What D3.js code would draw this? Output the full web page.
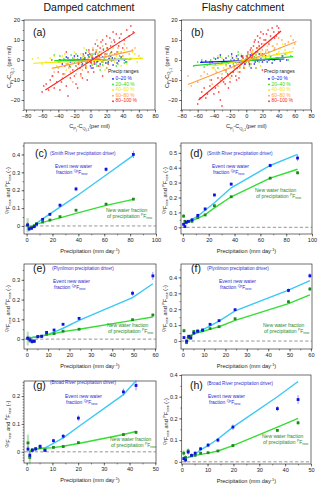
<!DOCTYPE html>
<html><head><meta charset="utf-8">
<script src="https://cdn.jsdelivr.net/npm/d3@7"></script>
<style>body{margin:0;background:#fff}svg{display:block;font-family:"Liberation Sans",Arial,sans-serif}</style>
</head><body><svg id="c" width="320" height="489"></svg>
<script>
// ---------------- DATA ----------------
const rangeNames = ["0\u201320 %","20\u201340 %","40\u201360 %","60\u201380 %","80\u2013100 %"];
const rangeColors = ["#1414f0","#22dd22","#f2e600","#ffa040","#ff2020"];
const scatterTicksX = [-80,-60,-40,-20,0,20,40,60,80];
const scatterTicksY = [-20,-10,0,10,20];

// (a) damped catchment scatter: [x, y]
const aBlue = [[-38,0],[-30,1.5],[-25,-1],[-20,2],[-15,-0.5],[-12,1],[-10,-2],[-8,0.5],[-5,-1.5],[-3,2.5],[-1,0],[0,-3],[2,1],[4,-0.5],[6,3],[8,-1],[10,0.5],[12,-2],[15,1.5],[18,0],[22,-1],[25,2],[30,0.5],[35,-0.5],[42,0],[-6,3.5],[3,-4],[-18,-3],[20,3],[28,-2.5],
  [-35,-2],[-28,1],[-22,-0.5],[-16,2],[-11,-1],[-7,1],[-4,-0.5],[-2,1.5],[1,-1.5],[3,0.5],[5,-2],[7,1.5],[9,-0.5],[11,2],[14,-1],[16,0],[19,-1.5],[23,0.8],[27,1],[33,-1.5],[38,1.5],[44,-1]];
const aGreen = [[-45,2.5],[-40,-1],[-33,0.5],[-28,-2],[-22,1],[-18,3],[-14,-1.5],[-9,2],[-6,-3],[-2,1.5],[1,-1],[3,3],[5,0],[7,-2],[9,2],[11,4],[14,-1],[17,1],[20,-4],[23,2],[26,-0.5],[30,3],[34,-2],[38,1],[45,-1],[50,0.5],[-25,-3.5],[12,-5],[-5,5],[16,5.5],
  [-38,2],[-30,-0.5],[-24,2.5],[-20,-1.5],[-16,0.5],[-11,-2.5],[-7,0.5],[-4,-1],[0,2.5],[2,-2.5],[4,1],[6,3.5],[8,-3],[10,0],[13,2.5],[15,-2.5],[19,1.5],[21,-1.5],[25,3.5],[28,0],[32,-3],[36,2],[42,-1.5]];
const aYellow = [[-72,0.5],[-60,-2],[-50,1],[-42,-3],[-35,2],[-28,-1],[-20,4],[-15,-2],[-10,1],[-5,-4],[0,2],[4,-1],[8,5],[12,0],[16,-3],[20,3],[25,1],[30,-1],[35,4],[40,2],[45,-2],[50,1],[55,3],[62,1],[-8,6],[18,-5],[28,6],[-30,-5],
  [-65,1],[-55,-1],[-45,2],[-38,-1],[-32,3],[-25,0],[-18,-3],[-12,3],[-6,-1],[-2,4],[2,-2],[6,1],[10,3],[14,-1],[22,-2],[26,4],[32,2],[38,-3],[42,5],[48,0],[52,4],[58,-1]];
const aOrange = [[-48,-8],[-40,-4],[-35,-9],[-30,-2],[-25,-6],[-20,1],[-16,-4],[-12,-8],[-8,2],[-5,-3],[-2,4],[0,-1],[3,6],[6,0],[9,3],[12,-3],[15,7],[18,2],[22,5],[26,9],[30,1],[34,6],[38,4],[42,8],[48,3],[55,6],[60,2],[20,-4],[-22,-11],[8,10],
  [-45,-6],[-38,-1],[-32,-7],[-27,-4],[-23,-1],[-18,-7],[-14,0],[-10,-5],[-6,-1],[-3,1],[1,3],[4,-2],[7,5],[10,2],[13,4],[16,-1],[20,6],[24,3],[28,7],[32,3],[36,9],[40,2],[45,6],[52,5]];
const aRed = [[-60,-16],[-55,-12],[-50,-10],[-45,-14],[-40,-6],[-36,-11],[-32,-3],[-28,-18],[-25,-9],[-22,-5],[-18,-12],[-15,-2],[-12,-7],[-9,3],[-6,-4],[-4,-10],[-2,5],[0,-1],[2,2],[4,-6],[6,8],[8,1],[10,-3],[12,6],[15,10],[18,3],[20,12],[22,-2],[25,7],[28,14],[30,9],[33,4],[36,11],[40,6],[45,15],[50,17],[-30,4],[15,-8],[-48,0],
  [-58,-13],[-52,-15],[-47,-8],[-42,-11],[-38,-15],[-34,-7],[-30,-13],[-26,-3],[-20,-8],[-16,-14],[-13,-4],[-10,-9],[-7,0],[-3,-6],[-1,3],[1,-4],[3,5],[5,-1],[7,4],[9,7],[11,0],[13,9],[16,5],[19,8],[21,6],[24,11],[26,4],[29,10],[32,13],[35,7],[38,13],[42,10],[48,12],[53,14]];
// regression lines (a): [x1,y1,x2,y2]
const aLines = [[-40,-0.2,45,0.3],[-45,-0.3,50,0.5],[-71,-1.65,65,0.8],[-48,-4.2,53,4.7],[-56,-15,55,13.8]];

// (b) flashy catchment scatter
const bBlue = [[-55,-1],[-45,-2],[-38,0.5],[-30,-1.5],[-25,1],[-20,-3],[-15,0],[-12,2],[-8,-1],[-5,1.5],[-2,-2],[0,0.5],[3,-1],[5,2.5],[8,0],[10,-2],[13,1],[16,3],[20,-1],[24,2],[28,0],[32,-1.5],[38,1],[45,2],[50,0],[-18,3],[6,-4],[-32,2.5],
  [-50,-0.5],[-42,-1],[-35,1],[-28,0],[-22,-1.5],[-17,1],[-13,-1],[-10,0.5],[-6,2],[-3,-0.5],[1,1.5],[4,-2],[7,1],[11,-1],[14,-0.5],[18,1],[22,0],[26,-1],[30,1.5],[35,0],[42,-0.5]];
const bGreen = [[-65,-3],[-55,0],[-48,-2.5],[-40,1],[-35,-4],[-28,-1],[-22,2],[-16,-2],[-12,1],[-8,-3.5],[-4,2],[0,-1],[2,3],[6,-2],[10,1.5],[14,4],[18,0],[22,3],[26,-1],[30,2],[35,5],[40,1],[48,3],[55,2],[-25,-6],[12,-4],[-10,4],
  [-60,-1],[-52,-3.5],[-44,0],[-38,-2],[-32,1.5],[-25,-2.5],[-19,0],[-14,-3],[-10,2.5],[-6,-1],[-2,0],[1,2],[4,-3],[8,1],[12,2.5],[16,-1],[20,2],[24,1],[28,4],[33,0],[38,3],[44,2],[52,0]];
const bYellow = [[-45,-2],[-38,-5],[-30,1],[-25,-3],[-20,-6],[-15,0],[-10,-2],[-6,3],[-2,-4],[0,1],[4,-1],[8,4],[12,2],[16,6],[20,0],[24,5],[28,3],[32,7],[36,1],[40,4],[45,8],[50,3],[58,6],[-35,2],[18,-3],
  [-42,-4],[-35,-1],[-28,-4],[-22,-1],[-18,-4],[-12,1],[-8,-3],[-4,0],[2,2],[6,-2],[10,3],[14,1],[18,4],[22,2],[26,7],[30,1],[34,5],[38,3],[42,6],[48,5],[54,4]];
const bOrange = [[-72,-8],[-60,-11],[-52,-6],[-45,-10],[-40,-4],[-35,-13],[-30,-7],[-25,-2],[-20,-9],[-15,-4],[-10,-6],[-6,0],[-3,-3],[0,2],[3,-1],[6,4],[10,1],[14,6],[18,3],[22,8],[26,5],[30,10],[35,6],[40,11],[48,8],[55,12],[60,8],[-18,2],[12,-4],
  [-68,-13],[-56,-8],[-48,-7],[-42,-12],[-37,-6],[-32,-10],[-27,-5],[-22,-8],[-17,-6],[-12,-2],[-8,-4],[-4,1],[-1,-1],[2,3],[5,1],[8,5],[12,3],[16,7],[20,5],[24,4],[28,9],[33,7],[38,8],[44,10],[52,9],[58,10]];
const bRed = [[-60,-22],[-55,-16],[-50,-19],[-45,-13],[-40,-17],[-35,-9],[-32,-20],[-28,-11],[-25,-5],[-22,-14],[-18,-8],[-15,-3],[-12,-10],[-10,-1],[-8,-6],[-5,2],[-3,-4],[0,0],[2,4],[4,-2],[6,6],[8,2],[10,9],[12,4],[14,12],[16,7],[18,14],[20,3],[22,10],[25,13],[28,8],[32,16],[35,11],[38,17],[40,14],[-45,-1],[20,-5],[-30,-23],
  [-57,-19],[-52,-14],[-48,-17],[-43,-10],[-38,-14],[-34,-16],[-30,-9],[-26,-12],[-23,-7],[-20,-11],[-16,-6],[-13,-8],[-11,-4],[-9,-9],[-6,-2],[-4,1],[-1,-2],[1,2],[3,0],[5,5],[7,3],[9,7],[11,10],[13,6],[15,9],[17,11],[19,8],[21,13],[24,10],[27,15],[30,12],[34,14],[37,12],[40,16]];
const bLines = [[-57,-1.2,47,0.5],[-65,-2.8,58,1.7],[-42,-3,58,4.2],[-72,-12.2,62,9.2],[-59,-20,43,14.5]];

// (c) Smith River driver, damped
const cPrecip = [0.8,2.0,3.9,5.9,7.7,12.4,18,25.8,38.2,61.4,82.5];
const cEvent = [0.006,-0.017,-0.013,-0.004,0.01,0.037,0.065,0.116,0.207,0.317,0.40];
const cEventErr = [0.015,0.012,0.01,0.008,0.006,0.006,0.008,0.01,0.012,0.012,0.02];
const cNew = [0.004,-0.012,-0.008,0.0,0.012,0.022,0.033,0.052,0.088,0.122,0.150];
const cNewErr = [0.04,0.015,0.01,0.006,0.004,0.003,0.003,0.003,0.004,0.004,0.005];
const cEventFit = [[4,-0.005],[12.4,0.04],[25.8,0.105],[38.2,0.165],[61.4,0.285],[82.5,0.395]];
const cNewFit = [[5,0.005],[12.4,0.02],[25.8,0.045],[38.2,0.07],[61.4,0.115],[82.5,0.149]];

// (d) Smith River driver, flashy
const dPrecip = [0.5,1.5,2.5,4.2,7,11.5,17.2,24.4,37.4,67.6,88.8];
const dEvent = [0.02,0.005,0.035,0.04,0.05,0.08,0.123,0.217,0.29,0.415,0.465];
const dEventErr = [0.01,0.01,0.008,0.006,0.008,0.01,0.012,0.01,0.01,0.012,0.02];
const dNew = [0.075,0.04,0.03,0.04,0.04,0.065,0.083,0.145,0.205,0.33,0.366];
const dNewErr = [0.012,0.01,0.006,0.005,0.004,0.005,0.006,0.006,0.006,0.008,0.012];
const dEventFit = [[4.2,0.04],[11.5,0.075],[17.2,0.115],[24.4,0.165],[37.4,0.265],[67.6,0.415],[88.8,0.49]];
const dNewFit = [[0.5,0.025],[4.2,0.035],[11.5,0.06],[17.2,0.085],[24.4,0.13],[37.4,0.205],[67.6,0.33],[88.8,0.39]];

// (e) Plynlimon driver, damped
const ePrecip = [0.5,1.5,2.5,3.5,5.2,7,9.3,12.8,17,24.5,49.5,59];
const eEvent = [0.005,-0.005,-0.012,-0.01,0.012,0.015,0.034,0.046,0.075,0.105,0.232,0.32];
const eEventErr = [0.012,0.015,0.012,0.01,0.008,0.006,0.006,0.006,0.006,0.006,0.012,0.02];
const eNew = [0.003,0.0,-0.01,-0.012,0.014,0.013,0.025,0.028,0.04,0.05,0.098,0.122];
const eNewErr = [0.035,0.015,0.012,0.008,0.005,0.004,0.004,0.003,0.003,0.003,0.005,0.007];
const eEventFit = [[2.5,0.008],[5.2,0.012],[9.3,0.022],[12.8,0.035],[17,0.055],[24.5,0.095],[49.5,0.21],[59,0.28]];
const eNewFit = [[0.5,0.005],[5.2,0.012],[9.3,0.02],[12.8,0.028],[17,0.038],[24.5,0.05],[49.5,0.095],[59,0.112]];

// (f) Plynlimon driver, flashy
const fPrecip = [0.6,1.8,2.8,3.8,5.2,7,9.3,12.8,17,24.5,49.5,59.5];
const fEvent = [0.022,0.0,0.03,0.018,0.05,0.062,0.07,0.105,0.128,0.197,0.318,0.41];
const fEventErr = [0.008,0.01,0.008,0.006,0.006,0.006,0.006,0.006,0.007,0.008,0.012,0.015];
const fNew = [0.065,-0.01,0.02,0.03,0.06,0.063,0.065,0.078,0.09,0.14,0.247,0.327];
const fNewErr = [0.012,0.01,0.008,0.006,0.006,0.005,0.005,0.005,0.005,0.006,0.008,0.012];
const fEventFit = [[2.8,0.025],[5.2,0.045],[9.3,0.07],[12.8,0.095],[17,0.125],[24.5,0.19],[49.5,0.32],[59.5,0.38]];
const fNewFit = [[1.8,0.02],[5.2,0.045],[9.3,0.06],[12.8,0.075],[17,0.09],[24.5,0.13],[49.5,0.235],[59.5,0.29]];

// (g) Broad River driver, damped
const gPrecip = [0.5,1.2,2.2,3.5,5.2,7.1,10.4,14.2,20.1,37.6,42.5];
const gEvent = [0.01,-0.012,0.005,0.01,0.02,0.006,0.04,0.056,0.121,0.215,0.238];
const gEventErr = [0.012,0.015,0.008,0.006,0.006,0.006,0.007,0.008,0.01,0.012,0.018];
const gNew = [0.032,-0.02,0.008,0.012,0.015,0.005,0.016,0.019,0.033,0.062,0.07];
const gNewErr = [0.03,0.025,0.006,0.004,0.004,0.004,0.003,0.003,0.003,0.004,0.005];
const gEventFit = [[5.2,0.012],[7.1,0.014],[10.4,0.03],[14.2,0.05],[20.1,0.09],[37.6,0.205],[42.5,0.255]];
const gNewFit = [[1.2,0.005],[5.2,0.012],[10.4,0.015],[14.2,0.02],[20.1,0.03],[37.6,0.062],[42.5,0.073]];

// (h) Broad River driver, flashy
const hPrecip = [0.8,1.5,2.5,3.8,5.2,7.3,10.2,14,19.8,37,45];
const hEvent = [0.015,0.008,0.045,0.03,0.04,0.06,0.077,0.1,0.16,0.245,0.287];
const hEventErr = [0.01,0.012,0.012,0.008,0.008,0.008,0.01,0.01,0.012,0.012,0.02];
const hNew = [0.04,0.02,0.05,0.028,0.03,0.04,0.042,0.05,0.075,0.145,0.18];
const hNewErr = [0.012,0.01,0.012,0.005,0.005,0.005,0.004,0.004,0.005,0.006,0.01];
const hEventFit = [[2.5,0.02],[5.2,0.035],[7.3,0.055],[10.2,0.075],[14,0.105],[19.8,0.16],[37,0.3],[45,0.37]];
const hNewFit = [[1,0.015],[5.2,0.03],[10.2,0.04],[14,0.05],[19.8,0.075],[37,0.16],[45,0.2]];

// ---------------- DRAWING ----------------
const svg = d3.select("#c");
const FS = 5.6;
const axisColor = "#333";

function rich(sel, parts, base) {
  let cur = 0;
  parts.forEach(p => {
    const off = p.o || 0;
    sel.append("tspan").attr("dy", off - cur).attr("font-size", p.s || base).text(p.t);
    cur = off;
  });
}

function frameAndAxes(x, y, box, xTicks, xMinor, yTicks, yMinor, fmtY) {
  const [x0, y0, x1, y1] = box;
  const g = svg.append("g");
  g.append("g").attr("transform", `translate(0,${y1})`)
    .call(d3.axisBottom(x).tickValues(xTicks).tickSize(2.5).tickPadding(1.5).tickSizeOuter(0).tickFormat(d3.format("d")));
  g.append("g").attr("transform", `translate(0,${y1})`)
    .call(d3.axisBottom(x).tickValues(xMinor).tickSize(1.4).tickSizeOuter(0).tickFormat(""));
  g.append("g").attr("transform", `translate(${x0},0)`)
    .call(d3.axisLeft(y).tickValues(yTicks).tickSize(2.5).tickPadding(1.5).tickSizeOuter(0).tickFormat(fmtY));
  g.append("g").attr("transform", `translate(${x0},0)`)
    .call(d3.axisLeft(y).tickValues(yMinor).tickSize(1.4).tickSizeOuter(0).tickFormat(""));
  g.selectAll(".domain").remove();
  g.selectAll("line").attr("stroke", axisColor).attr("stroke-width", 0.6);
  g.selectAll("text").attr("font-size", FS).attr("fill", "#222").attr("font-family", "Liberation Sans, Arial, sans-serif");
  svg.append("rect").attr("x", x0).attr("y", y0).attr("width", x1 - x0).attr("height", y1 - y0)
    .attr("fill", "none").attr("stroke", axisColor).attr("stroke-width", 0.7);
}

const minorRange = (a, b, s) => d3.range(a, b + s / 2, s);

// ---- titles
svg.append("text").attr("x", 89).attr("y", 10.5).attr("text-anchor", "middle").attr("font-size", 10.5).attr("fill", "#111").text("Damped catchment");
svg.append("text").attr("x", 243).attr("y", 10.5).attr("text-anchor", "middle").attr("font-size", 10.5).attr("fill", "#111").text("Flashy catchment");

function scatterPanel(box, xDom, groups, lines, tag, tagX, legX) {
  const [x0, y0, x1, y1] = box;
  const x = d3.scaleLinear().domain(xDom).range([x0, x1]);
  const y = d3.scaleLinear().domain([-25, 20]).range([y1, y0]);
  frameAndAxes(x, y, box, scatterTicksX, minorRange(-80, 80, 10), scatterTicksY, minorRange(-25, 20, 5), d3.format("d"));
  groups.forEach((pts, i) => {
    svg.append("g").selectAll("rect").data(pts).join("rect")
      .attr("x", d => x(d[0]) - 0.7).attr("y", d => y(d[1]) - 0.7)
      .attr("width", 1.4).attr("height", 1.4).attr("fill", rangeColors[i]);
  });
  lines.forEach((l, i) => {
    svg.append("line").attr("x1", x(l[0])).attr("y1", y(l[1])).attr("x2", x(l[2])).attr("y2", y(l[3]))
      .attr("stroke", rangeColors[i]).attr("stroke-width", 1.1);
  });
  svg.append("text").attr("x", tagX).attr("y", y0 + 16).attr("font-size", 10.5).attr("fill", "#111").text(tag);
  // legend
  svg.append("text").attr("x", legX).attr("y", 73).attr("font-size", 5).attr("fill", "#222").text("Precip ranges");
  rangeNames.forEach((n, i) => {
    const yy = 80 + i * 5.6;
    svg.append("rect").attr("x", legX + 4.2).attr("y", yy - 1.9).attr("width", 1.6).attr("height", 1.6).attr("fill", rangeColors[i]);
    svg.append("text").attr("x", legX + 7.5).attr("y", yy).attr("font-size", 4.8).attr("fill", rangeColors[i]).text(n);
  });
  // x label
  const xl = svg.append("text").attr("x", (x0 + x1) / 2).attr("y", y1 + 18).attr("text-anchor", "middle").attr("fill", "#222");
  rich(xl, [{t: "C"}, {t: "P", o: 1.5, s: 4}, {t: "j", o: 3, s: 3.2}, {t: "-C", o: 0}, {t: "Q", o: 1.5, s: 4}, {t: "j-1", o: 3, s: 3.2}, {t: "(per mil)", o: 0}], FS);
  // y label
  const ylx = x0 - 13, yly = (y0 + y1) / 2 + 2;
  const yl = svg.append("text").attr("transform", `translate(${ylx},${yly}) rotate(-90)`).attr("text-anchor", "middle").attr("fill", "#222");
  rich(yl, [{t: "C"}, {t: "P", o: 1.5, s: 4}, {t: "j", o: 3, s: 3.2}, {t: "-C", o: 0}, {t: "Q", o: 1.5, s: 4}, {t: "j-1", o: 3, s: 3.2}, {t: " (per mil)", o: 0}], FS);
}

scatterPanel([24, 20, 155, 110], [-82.5, 80], [aBlue, aGreen, aYellow, aOrange, aRed], aLines, "(a)", 33, 108);
scatterPanel([181.5, 20, 311, 110], [-80, 80], [bBlue, bGreen, bYellow, bOrange, bRed], bLines, "(b)", 191, 264);

function seriesPanel(o) {
  const [x0, y0, x1, y1] = o.box;
  const x = d3.scaleLinear().domain(o.xDom).range([x0, x1]);
  const y = d3.scaleLinear().domain(o.yDom).range([y1, y0]);
  frameAndAxes(x, y, o.box, o.xTicks, o.xMinor, o.yTicks, o.yMinor, d => d === 0 ? "0" : d3.format(".1f")(d));
  svg.append("line").attr("x1", x0).attr("x2", x1).attr("y1", y(0)).attr("y2", y(0))
    .attr("stroke", "#7a7a7a").attr("stroke-width", 0.8).attr("stroke-dasharray", "3.2,2.2");
  const line = d3.line().x(d => x(d[0])).y(d => y(d[1]));
  svg.append("path").attr("d", line(o.eFit)).attr("fill", "none").attr("stroke", "#3cc8f5").attr("stroke-width", 1.4);
  svg.append("path").attr("d", line(o.nFit)).attr("fill", "none").attr("stroke", "#35dd35").attr("stroke-width", 1.4);
  const series = [
    {v: o.nv, e: o.ne, c: "#1b8a1b", ec: "#3aa83a"},
    {v: o.ev, e: o.ee, c: "#1212e0", ec: "#5a5aff"}
  ];
  series.forEach(s => {
    const g = svg.append("g");
    g.selectAll("line").data(o.px).join("line")
      .attr("x1", d => x(d)).attr("x2", d => x(d))
      .attr("y1", (d, i) => y(s.v[i] - s.e[i])).attr("y2", (d, i) => y(s.v[i] + s.e[i]))
      .attr("stroke", s.ec).attr("stroke-width", (d, i) => s.e[i] > 0.02 ? 2.2 : 0.8)
      .attr("stroke-opacity", (d, i) => s.e[i] > 0.02 ? 0.35 : 0.8);
    g.selectAll("rect").data(o.px).join("rect")
      .attr("x", d => x(d) - 1.4).attr("y", (d, i) => y(s.v[i]) - 1.4)
      .attr("width", 2.8).attr("height", 2.8).attr("fill", s.c);
  });
  svg.append("text").attr("x", o.tag[0]).attr("y", o.tag[1]).attr("font-size", 10.5).attr("fill", "#111").text(o.tagText);
  svg.append("text").attr("x", o.drv[0]).attr("y", o.drv[1]).attr("font-size", 4.6).attr("fill", "#3030d0").text(o.drvText);
  svg.append("text").attr("x", o.ev1[0]).attr("y", o.ev1[1]).attr("font-size", 5).attr("fill", "#2a2ad0").text("Event new water");
  const t2 = svg.append("text").attr("x", o.ev1[0] + 1).attr("y", o.ev1[1] + 6).attr("fill", "#2a2ad0");
  rich(t2, [{t: "fraction "}, {t: "Qp", o: -1.6, s: 3.3}, {t: "F", o: 0}, {t: "new", o: 1.4, s: 3.3}], 5);
  svg.append("text").attr("x", o.nw1[0]).attr("y", o.nw1[1]).attr("font-size", 5).attr("fill", "#2a8a2a").text("New water fraction");
  const t3 = svg.append("text").attr("x", o.nw1[0] + 1).attr("y", o.nw1[1] + 6).attr("fill", "#2a8a2a");
  rich(t3, [{t: "of precipitation "}, {t: "P", o: -1.6, s: 3.3}, {t: "F", o: 0}, {t: "new", o: 1.4, s: 3.3}], 5);
  // x label
  const xl = svg.append("text").attr("x", (x0 + x1) / 2).attr("y", y1 + 19).attr("text-anchor", "middle").attr("fill", "#222");
  rich(xl, [{t: "Precipitation (mm day"}, {t: "-1", o: -1.8, s: 3.8}, {t: ")", o: 0}], FS);
  // y label
  const yl = svg.append("text").attr("transform", `translate(${x0 - 14},${(y0 + y1) / 2 + 2}) rotate(-90)`).attr("text-anchor", "middle").attr("fill", "#222");
  rich(yl, [{t: "Qp", o: -1.6, s: 3.6}, {t: "F", o: 0}, {t: "new", o: 1.4, s: 3.6}, {t: " and ", o: 0}, {t: "P", o: -1.6, s: 3.6}, {t: "F", o: 0}, {t: "new", o: 1.4, s: 3.6}, {t: " (-)", o: 0}], FS);
}

const x100 = [0,20,40,60,80,100], x60 = [0,10,20,30,40,50,60], x50 = [0,10,20,30,40,50];
seriesPanel({box: [24,143,156,234], xDom: [-2,100], yDom: [-0.045,0.464], xTicks: x100, xMinor: minorRange(0,100,10), yTicks: [0,0.1,0.2,0.3,0.4], yMinor: minorRange(0,0.45,0.05),
  px: cPrecip, ev: cEvent, ee: cEventErr, nv: cNew, ne: cNewErr, eFit: cEventFit, nFit: cNewFit,
  tag: [35,157], tagText: "(c)", drv: [50,155], drvText: "(Smith River precipitation driver)", ev1: [55,168], nw1: [106,212]});
seriesPanel({box: [181,143,312,234], xDom: [-1.5,100], yDom: [-0.045,0.566], xTicks: x100, xMinor: minorRange(0,100,10), yTicks: [0,0.1,0.2,0.3,0.4,0.5], yMinor: minorRange(0,0.55,0.05),
  px: dPrecip, ev: dEvent, ee: dEventErr, nv: dNew, ne: dNewErr, eFit: dEventFit, nFit: dNewFit,
  tag: [190,157], tagText: "(d)", drv: [207,155], drvText: "(Smith River precipitation driver)", ev1: [212,168], nw1: [255,192]});
seriesPanel({box: [24,264,156,349], xDom: [-1.26,60.47], yDom: [-0.05,0.38], xTicks: x60, xMinor: minorRange(0,60,5), yTicks: [0,0.1,0.2,0.3], yMinor: minorRange(0,0.35,0.05),
  px: ePrecip, ev: eEvent, ee: eEventErr, nv: eNew, ne: eNewErr, eFit: eEventFit, nFit: eNewFit,
  tag: [33,272], tagText: "(e)", drv: [52,270], drvText: "(Plynlimon precipitation driver)", ev1: [53,283], nw1: [107,327]});
seriesPanel({box: [181,264,312,349], xDom: [-0.8,60.5], yDom: [-0.05,0.484], xTicks: x60, xMinor: minorRange(0,60,5), yTicks: [0,0.1,0.2,0.3,0.4], yMinor: minorRange(0,0.45,0.05),
  px: fPrecip, ev: fEvent, ee: fEventErr, nv: fNew, ne: fNewErr, eFit: fEventFit, nFit: fNewFit,
  tag: [191,272], tagText: "(f)", drv: [207,270], drvText: "(Plynlimon precipitation driver)", ev1: [219,283], nw1: [263,327]});
seriesPanel({box: [24,381,156,463], xDom: [-1.05,50.27], yDom: [-0.04,0.254], xTicks: x50, xMinor: minorRange(0,50,5), yTicks: [0,0.1,0.2], yMinor: minorRange(-0.03,0.25,0.01),
  px: gPrecip, ev: gEvent, ee: gEventErr, nv: gNew, ne: gNewErr, eFit: gEventFit, nFit: gNewFit,
  tag: [33,389], tagText: "(g)", drv: [50,384], drvText: "(Broad River precipitation driver)", ev1: [65,398], nw1: [110,441]});
seriesPanel({box: [181.7,375,311,464], xDom: [0,50], yDom: [-0.01,0.4], xTicks: x50, xMinor: minorRange(0,50,5), yTicks: [0,0.1,0.2,0.3,0.4], yMinor: minorRange(0,0.4,0.05),
  px: hPrecip, ev: hEvent, ee: hEventErr, nv: hNew, ne: hNewErr, eFit: hEventFit, nFit: hNewFit,
  tag: [190,389], tagText: "(h)", drv: [207,385], drvText: "(Broad River precipitation driver)", ev1: [208,398], nw1: [262,438]});
</script></body></html>
